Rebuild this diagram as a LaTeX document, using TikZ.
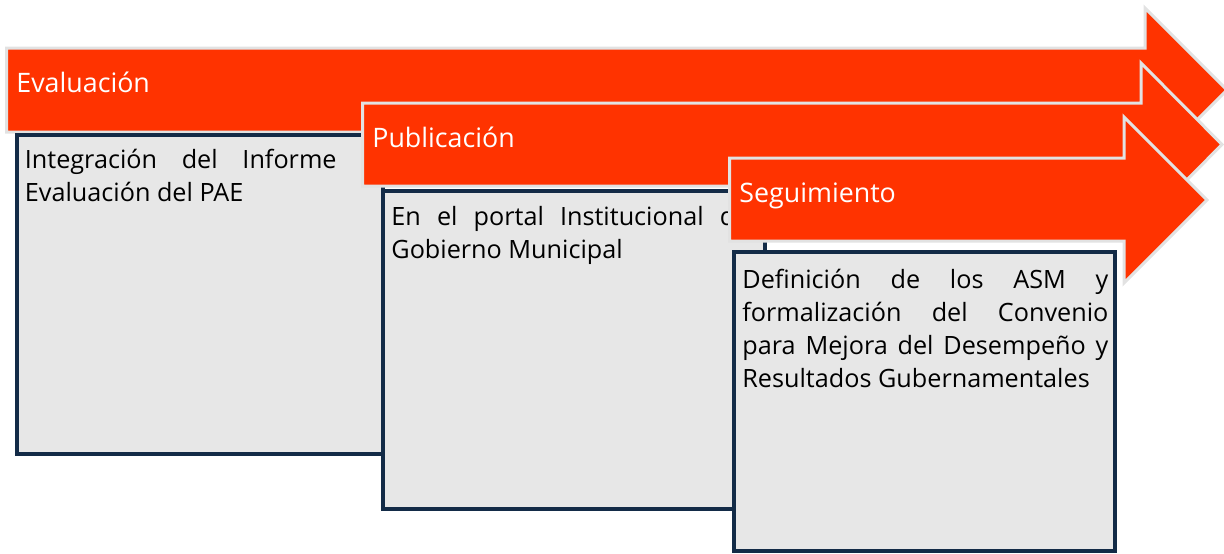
\documentclass[tikz,border=0pt]{standalone}
\usepackage{fontspec}
\setmainfont{Open Sans}
\usetikzlibrary{positioning}
\definecolor{naranja}{RGB}{255,51,0}
\definecolor{marino}{RGB}{19,43,71}
\definecolor{grisfondo}{RGB}{231,231,231}
\definecolor{grisborde}{RGB}{226,226,226}

\begin{document}
\begin{tikzpicture}[
		x=0.5pt, y=-0.5pt,
		flecha/.style={fill=naranja, draw=grisborde, line width=1.5pt, line join=miter},
		caja/.style={fill=grisfondo, draw=marino, line width=2pt},
		titulo/.style={text=white, font=\fontsize{13.4}{15}\selectfont, inner sep=0pt, anchor=base west},
		texto/.style={text width=183pt, align=justify, font=\fontsize{12.6}{16.5}\selectfont, inner sep=0pt, anchor=north west}
	]
		\clip (0,0) rectangle (1224,553);
		% Evaluacion
		\draw[flecha] (6.5,48) -- (1145,48) -- (1145,8) -- (1227,90) -- (1145,172) -- (1145,132) -- (6.5,132) -- cycle;
		\node[titulo] (evaluacion) at (16,92) {Evaluación};
		\draw[caja] (16.5,135) rectangle (383,454);
		\node[texto] (txtevaluacion) at (24.5,149) {Integración del Informe de\linebreak Evaluación del PAE};
		% Publicacion
		\draw[flecha] (362.5,103) -- (1141,103) -- (1141,63) -- (1222,144.5) -- (1141,226) -- (1141,186) -- (362.5,186) -- cycle;
		\node[titulo] (publicacion) at (372,147) {Publicación};
		\draw[caja] (383,190.5) rectangle (765,509);
		\node[texto, text width=179pt] (txtpublicacion) at (391,206) {En el portal Institucional de\linebreak Gobierno Municipal};
		% Seguimiento
		\draw[flecha] (729.5,158) -- (1124,158) -- (1124,117) -- (1207,200) -- (1124,283) -- (1124,241) -- (729.5,241) -- cycle;
		\node[titulo] (seguimiento) at (739,202) {Seguimiento};
		\draw[caja] (734,252) rectangle (1115,551);
		\node[texto] (txtseguimiento) at (742,269) {Definición de los ASM y\linebreak formalización del Convenio\linebreak para Mejora del Desempeño y\linebreak Resultados Gubernamentales};
	\end{tikzpicture}
\end{document}
